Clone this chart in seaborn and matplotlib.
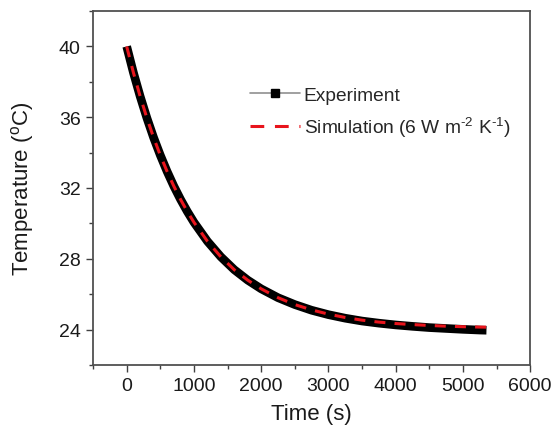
import matplotlib
matplotlib.use("Agg")
import matplotlib.pyplot as plt
import pandas as pd
import seaborn as sns
from matplotlib.lines import Line2D
from matplotlib.ticker import MultipleLocator

# values
exp_time = [0, 100, 200, 300, 400, 500, 600, 700, 800, 900, 1000, 1200, 1400,
            1600, 1800, 2000, 2250, 2500, 2750, 3000, 3250, 3500, 3750, 4000,
            4250, 4500, 4750, 5000, 5250, 5350]
exp_temp = [40.0, 38.52, 37.18, 35.96, 34.85, 33.85, 32.94, 32.11, 31.36, 30.68,
            30.06, 28.99, 28.11, 27.38, 26.79, 26.30, 25.80, 25.41, 25.09, 24.84,
            24.64, 24.48, 24.36, 24.26, 24.18, 24.11, 24.06, 24.01, 23.97, 23.96]

sim_time = [0, 100, 200, 300, 400, 500, 600, 700, 800, 900, 1000, 1200, 1400,
            1600, 1800, 2000, 2250, 2500, 2750, 3000, 3250, 3500, 3750, 4000,
            4250, 4500, 4750, 5000, 5250, 5400]
sim_temp = [40.0, 38.52, 37.18, 35.96, 34.85, 33.85, 32.94, 32.11, 31.36, 30.68,
            30.06, 28.99, 28.11, 27.38, 26.79, 26.30, 25.80, 25.41, 25.11, 24.87,
            24.68, 24.53, 24.42, 24.34, 24.28, 24.23, 24.19, 24.16, 24.14, 24.13]

exp_df = pd.DataFrame({"time": exp_time, "temp": exp_temp})
sim_df = pd.DataFrame({"time": sim_time, "temp": sim_temp})


def main():
    sns.set_style("white")
    plt.rcParams["font.family"] = ["Liberation Sans", "DejaVu Sans"]
    plt.rcParams["mathtext.fontset"] = "custom"
    plt.rcParams["mathtext.rm"] = "Liberation Sans"
    plt.rcParams["mathtext.it"] = "Liberation Sans:italic"

    fig = plt.figure(figsize=(5.54, 4.31), dpi=100)
    ax = fig.add_axes([0.168, 0.151, 0.789, 0.821])

    sns.lineplot(data=exp_df, x="time", y="temp", ax=ax, color="black",
                 linewidth=6.2, solid_capstyle="butt", legend=False)
    ax.lines[0].set_solid_joinstyle("round")
    sns.lineplot(data=sim_df, x="time", y="temp", ax=ax, color="#e8141c",
                 linewidth=2.2, dashes=False, legend=False)
    ax.lines[1].set_dashes([3.6, 3.0])

    ax.set_xlim(-500, 6000)
    ax.set_ylim(22, 42)
    ax.xaxis.set_major_locator(MultipleLocator(1000))
    ax.xaxis.set_minor_locator(MultipleLocator(500))
    ax.yaxis.set_major_locator(MultipleLocator(4))
    ax.yaxis.set_minor_locator(MultipleLocator(2))
    ax.tick_params(which="major", direction="out", length=5, width=1.0,
                   color="#404040", labelsize=14, labelcolor="#1a1a1a",
                   bottom=True, left=True, pad=4)
    ax.tick_params(which="minor", direction="out", length=3, width=1.0,
                   color="#404040", bottom=True, left=True)
    for side in ax.spines.values():
        side.set_color("#505050")
        side.set_linewidth(1.3)

    ax.set_xlabel("Time (s)", fontsize=16, labelpad=6, color="#1a1a1a")
    ax.set_ylabel("Temperature ($^{\\rm o}$C)", fontsize=16, labelpad=16, color="#1a1a1a")

    handles = [
        Line2D([], [], color="#909090", linewidth=1.2, marker="s",
               markersize=5.5, markerfacecolor="black", markeredgecolor="black"),
        Line2D([], [], color="#e8141c", linewidth=2.2, dashes=[4.5, 3.5]),
    ]
    labels = ["Experiment", "Simulation (6 W m$^{\u20102}$ K$^{\u20101}$)"]
    ax.legend(handles, labels, loc="upper left", bbox_to_anchor=(0.32, 0.835),
              frameon=False, fontsize=13.8, handlelength=2.6, handletextpad=0.2,
              labelspacing=0.55)

    fig.savefig("out.png", dpi=100)
    plt.close(fig)


if __name__ == "__main__":
    main()
